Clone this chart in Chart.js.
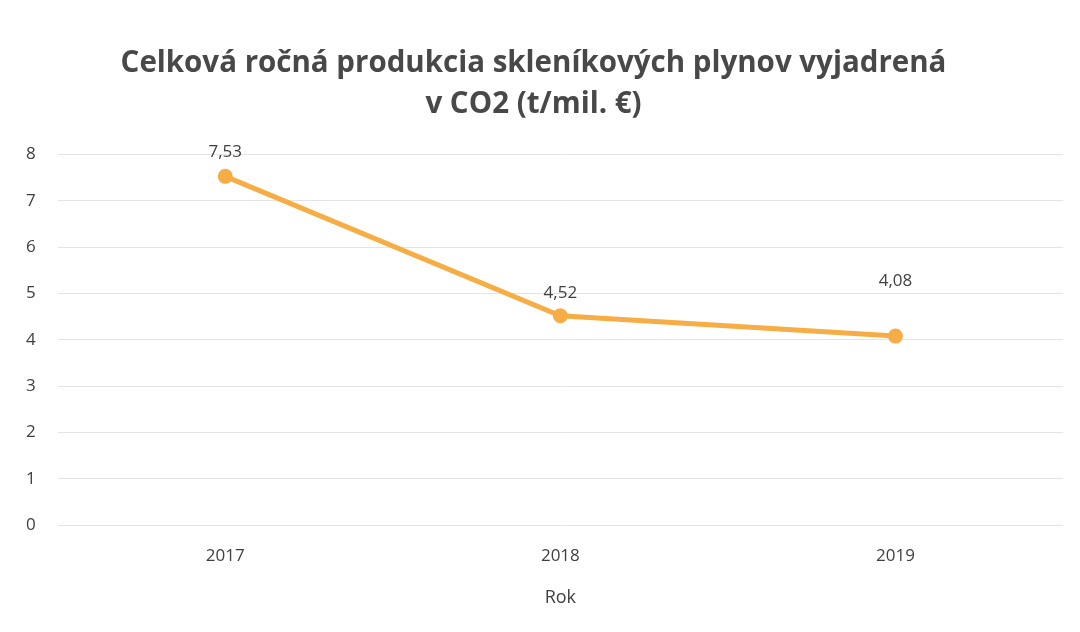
<!DOCTYPE html>
<html>
<head>
<meta charset="utf-8">
<script src="https://cdn.jsdelivr.net/npm/chart.js@4"></script>
<style>
    html, body { margin: 0; padding: 0; background: #fff; }
    #wrap { width: 1080px; height: 632px; }
</style>
</head>
<body>
<div id="wrap"><canvas id="co2-chart"></canvas></div>
<script>
// Data
const years = ['2017', '2018', '2019'];
const co2Values = [7.53, 4.52, 4.08];
const yTicks = [0, 1, 2, 3, 4, 5, 6, 7, 8];

const lineColor = '#f6ad45';
const textColor = '#404040';
// gap between point and its label (the 2019 label sits higher in the original)
const labelLift = [16, 14, 46];

// Draws the value above each point, with a decimal comma
const valueLabels = {
    id: 'valueLabels',
    afterDatasetsDraw(chart) {
        const ctx = chart.ctx;
        const meta = chart.getDatasetMeta(0);
        ctx.save();
        ctx.font = '17px "Open Sans", sans-serif';
        ctx.fillStyle = textColor;
        ctx.textAlign = 'center';
        ctx.textBaseline = 'bottom';
        meta.data.forEach((pt, i) => {
            ctx.fillText(co2Values[i].toFixed(2).replace('.', ','), pt.x, pt.y - labelLift[i]);
        });
        ctx.restore();
    }
};

const ctx = document.getElementById('co2-chart').getContext('2d');
new Chart(ctx, {
    type: 'line',
    data: {
        labels: years,
        datasets: [{
            data: co2Values,
            borderColor: lineColor,
            backgroundColor: lineColor,
            borderWidth: 5,
            pointRadius: 5,
            pointHoverRadius: 5,
            pointBackgroundColor: lineColor,
            pointBorderColor: lineColor,
            tension: 0,
            fill: false
        }]
    },
    options: {
        responsive: true,
        maintainAspectRatio: false,
        animation: false,
        layout: { padding: { left: 4, right: 17, top: 43, bottom: 23 } },
        plugins: {
            legend: { display: false },
            tooltip: { enabled: false },
            title: {
                display: true,
                text: ['Celková ročná produkcia skleníkových plynov vyjadrená', 'v CO2 (t/mil. €)'],
                color: '#484848',
                font: { family: '"Open Sans", sans-serif', size: 29.5, weight: 'bold', lineHeight: 1.4 },
                padding: { top: 0, bottom: 29 }
            }
        },
        scales: {
            x: {
                offset: true,
                grid: { display: false, drawTicks: false },
                border: { display: false },
                ticks: {
                    color: textColor,
                    font: { family: '"Open Sans", sans-serif', size: 17 },
                    padding: 21
                },
                title: {
                    display: true,
                    text: 'Rok',
                    color: textColor,
                    font: { family: '"Open Sans", sans-serif', size: 18 },
                    padding: { top: 0, bottom: 0 }
                }
            },
            y: {
                min: 0,
                max: 8,
                afterBuildTicks(axis) {
                    axis.ticks = yTicks.map(v => ({ value: v }));
                },
                grid: { color: '#e4e4e4', lineWidth: 1, drawTicks: false },
                border: { display: false },
                ticks: {
                    color: textColor,
                    font: { family: '"Open Sans", sans-serif', size: 17 },
                    padding: 22
                }
            }
        }
    },
    plugins: [valueLabels]
});
</script>
</body>
</html>
